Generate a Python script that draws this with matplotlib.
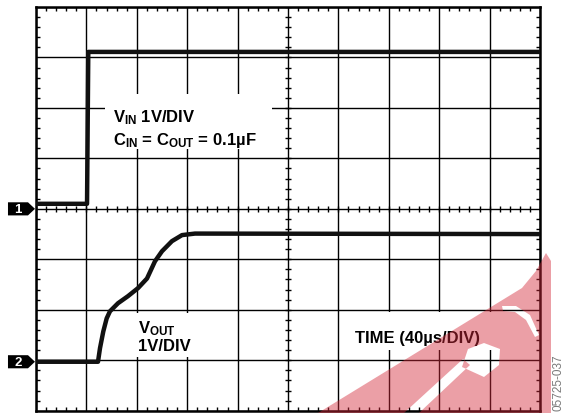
import numpy as np
import matplotlib
matplotlib.use("Agg")
import matplotlib.pyplot as plt
from matplotlib.path import Path
from matplotlib.patches import PathPatch, Polygon, Rectangle
from matplotlib.ticker import MultipleLocator
from matplotlib.transforms import Affine2D, blended_transform_factory

plt.rcParams['font.family'] = ['Liberation Sans', 'DejaVu Sans']
plt.rcParams['mathtext.fontset'] = 'custom'
plt.rcParams['mathtext.rm'] = 'Liberation Sans:bold'
plt.rcParams['mathtext.it'] = 'Liberation Sans:bold'
plt.rcParams['mathtext.bf'] = 'Liberation Sans:bold'

W, H = 563, 414

# scope settings
US_PER_DIV = 40
V_PER_DIV = 1
CH1_OFFSET = 0.0     # ground marker "1", in divisions
CH2_OFFSET = -3.03   # ground marker "2", in divisions

# channel 1: VIN (time in us, volts)
vin_t = [0, 40.5, 41.5, 400]
vin_v = [0.10, 0.10, 3.11, 3.11]

# channel 2: VOUT soft start (time in us, volts)
vout_t = [0, 49.2, 50.8, 53.4, 56.1, 58.7, 65.1, 73.0, 81.0, 88.1,
          94.4, 100.0, 107.9, 115.9, 126.2, 400]
vout_v = [0, 0, 0.27, 0.60, 0.86, 1.00, 1.16, 1.30, 1.46, 1.65,
          1.99, 2.19, 2.39, 2.51, 2.54, 2.53]

# watermark outline, image pixels
WM_OUTER = [(318, 414), (522, 289), (536, 272), (546, 254), (551, 262), (551, 414)]
WM_HOLES = [
    [(404, 414), (419, 414), (470, 366), (463, 360)],
    [(462, 368), (468, 350), (484, 344), (500, 350), (499, 366), (484, 378)],
    [(502, 307), (516, 307), (530, 316), (539, 336), (535, 338), (526, 321), (515, 313), (503, 312)],
]


def ring(pts, ccw):
    p = np.array(pts, float)
    x, y = p[:, 0], p[:, 1]
    area = np.sum(x * np.roll(y, -1) - np.roll(x, -1) * y)
    if (area > 0) != ccw:
        p = p[::-1]
    verts = list(p) + [p[0]]
    codes = [Path.MOVETO] + [Path.LINETO] * (len(p) - 1) + [Path.CLOSEPOLY]
    return verts, codes


fig = plt.figure(figsize=(W / 100, H / 100), dpi=100)
px = Affine2D().scale(1 / W, -1 / H).translate(0, 1) + fig.transFigure

ax = fig.add_axes([36 / W, 1 - 411.7 / H, 504 / W, 403.7 / H])
ax.set_xlim(0, 10 * US_PER_DIV)
ax.set_ylim(-4, 4)

ax.xaxis.set_major_locator(MultipleLocator(US_PER_DIV))
ax.yaxis.set_major_locator(MultipleLocator(1))
ax.xaxis.set_minor_locator(MultipleLocator(US_PER_DIV / 5))
ax.yaxis.set_minor_locator(MultipleLocator(0.2))
ax.grid(True, which='major', color='black', linewidth=1.0)
ax.tick_params(which='major', length=0, labelbottom=False, labelleft=False)
ax.tick_params(which='minor', direction='in', length=3, width=1.0,
               top=True, right=True, color='black')
for s in ax.spines.values():
    s.set_linewidth(1.8)

# center cross ticks
cx = np.arange(0, 10 * US_PER_DIV + 1, US_PER_DIV / 5)
cy = np.arange(-4, 4.01, 0.2)
ax.plot(cx, np.zeros_like(cx), ls='none', marker='|', ms=5, mew=1.0, color='black', zorder=1.6)
ax.plot(np.full_like(cy, 5 * US_PER_DIV), cy, ls='none', marker='_', ms=5, mew=1.0, color='black', zorder=1.6)

# white label boxes
for (x0, y0, x1, y1) in [(105, 95, 272, 150), (125, 314, 198, 358), (347, 313, 492, 351)]:
    ax.add_patch(Rectangle((x0, y0), x1 - x0, y1 - y0, transform=px,
                           facecolor='white', edgecolor='none', zorder=1.8))

# traces
ax.plot(vin_t, np.array(vin_v) / V_PER_DIV + CH1_OFFSET, color='#111111', lw=3.2, zorder=3)
ax.plot(vout_t, np.array(vout_v) / V_PER_DIV + CH2_OFFSET, color='#111111', lw=3.2, zorder=3)

# ground markers
bl = blended_transform_factory(ax.transAxes, ax.transData)
for lab, off in [('1', CH1_OFFSET), ('2', CH2_OFFSET)]:
    h = 0.13
    ax.add_patch(Polygon([(-0.0556, off - h), (-0.0159, off - h), (-0.002, off),
                          (-0.0159, off + h), (-0.0556, off + h)],
                         closed=True, transform=bl, facecolor='black',
                         edgecolor='none', clip_on=False, zorder=4))
    ax.text(-0.036, off, lab, transform=bl, color='white', fontsize=9.5,
            fontweight='bold', ha='center', va='center', clip_on=False, zorder=5)

# labels
tk = dict(transform=px, fontsize=12, fontweight='bold', va='baseline', ha='left', zorder=5)
ax.text(113, 122, r'V$_{\mathrm{IN}}$ 1V/DIV', **tk)
ax.text(113, 145, r'C$_{\mathrm{IN}}$ = C$_{\mathrm{OUT}}$ = 0.1µF', **tk)
ax.text(138, 333, r'V$_{\mathrm{OUT}}$', **tk)
ax.text(138, 351, '1V/DIV', **tk)
ax.text(355, 343, 'TIME (40µs/DIV)', **tk)

# watermark
verts, codes = ring(WM_OUTER, True)
for hole in WM_HOLES:
    v, c = ring(hole, False)
    verts += v
    codes += c
wm = PathPatch(Path(verts, codes), transform=px, facecolor='#D42A3A',
               edgecolor='none', alpha=0.45, zorder=10)
fig.add_artist(wm)

fig.text(558 / W, 1 - 411 / H, '05725-037', rotation=90, ha='center', va='bottom',
         fontsize=8.5, color='#7a7a7a', zorder=11)

fig.savefig('out.png', dpi=100)
